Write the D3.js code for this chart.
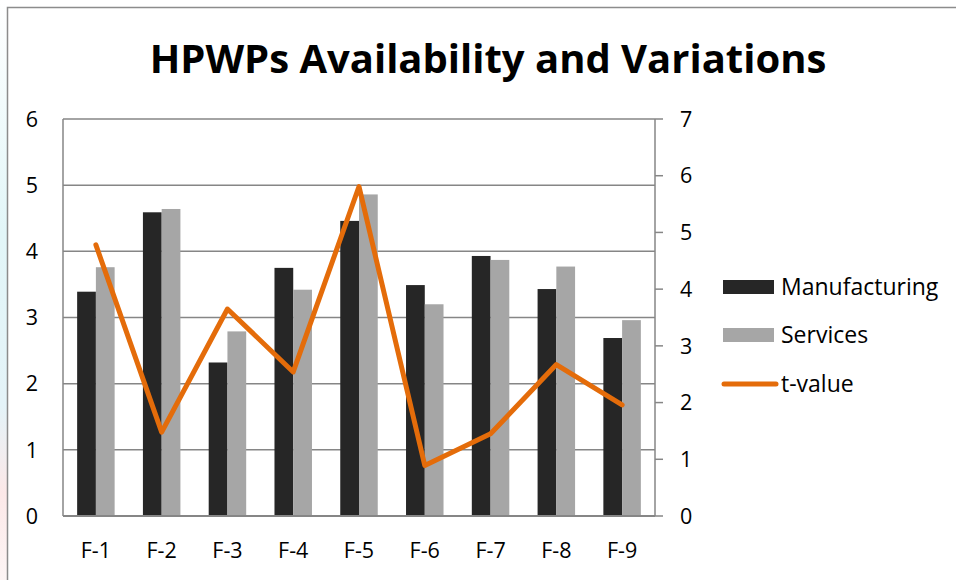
<!DOCTYPE html>
<html lang="en">
<head>
<meta charset="UTF-8">
<title>HPWPs Availability and Variations</title>
<script src="https://cdnjs.cloudflare.com/ajax/libs/d3/7.8.5/d3.min.js"></script>
<style>
  html, body { margin: 0; padding: 0; background: #fff; }
  svg { display: block; font-family: "Open Sans", sans-serif; }
  .grid line { stroke: #868686; stroke-width: 1.5; }
  .tick-label { font-size: 21.5px; fill: #000; }
  .legend-label { font-size: 23px; fill: #000; }
</style>
</head>
<body>
<div id="chart"></div>
<script>
  const categories = ["F-1", "F-2", "F-3", "F-4", "F-5", "F-6", "F-7", "F-8", "F-9"];
  const manufacturing = [3.39, 4.59, 2.32, 3.75, 4.46, 3.49, 3.93, 3.43, 2.69];
  const services = [3.76, 4.64, 2.79, 3.42, 4.86, 3.20, 3.87, 3.77, 2.96];
  const tValue = [4.78, 1.48, 3.65, 2.54, 5.81, 0.89, 1.45, 2.67, 1.96];
  const leftTicks = [0, 1, 2, 3, 4, 5, 6];
  const rightTicks = [0, 1, 2, 3, 4, 5, 6, 7];

  const width = 956, height = 580;
  const plot = {left: 63, right: 655, top: 119, bottom: 516};

  const svg = d3.select("#chart").append("svg")
      .attr("width", width)
      .attr("height", height);

  // faint background strip left of the chart frame
  const grad = svg.append("defs").append("linearGradient")
      .attr("id", "strip").attr("x1", 0).attr("y1", 0).attr("x2", 0).attr("y2", 1);
  grad.append("stop").attr("offset", "0%").attr("stop-color", "#ffffff");
  grad.append("stop").attr("offset", "40%").attr("stop-color", "#e2f6f8");
  grad.append("stop").attr("offset", "70%").attr("stop-color", "#e4f3f8");
  grad.append("stop").attr("offset", "85%").attr("stop-color", "#fce8e8");
  grad.append("stop").attr("offset", "100%").attr("stop-color", "#fdf5f5");
  svg.append("rect").attr("x", 0).attr("y", 0).attr("width", 7).attr("height", height)
      .attr("fill", "url(#strip)");

  // chart frame (only top and left edges show)
  svg.append("path")
      .attr("d", `M7.5,${height} V7.5 H${width}`)
      .attr("fill", "none").attr("stroke", "#8c8c8c").attr("stroke-width", 1.5);

  svg.append("text")
      .attr("x", 488).attr("y", 73)
      .attr("text-anchor", "middle")
      .attr("font-size", 40).attr("font-weight", "bold")
      .text("HPWPs Availability and Variations");

  const x = d3.scaleBand().domain(categories)
      .range([plot.left, plot.right])
      .paddingInner(0.43).paddingOuter(0.215);
  const xs = d3.scaleBand().domain(["m", "s"]).range([0, x.bandwidth()]);
  const yL = d3.scaleLinear().domain([0, 6]).range([plot.bottom, plot.top]);
  const yR = d3.scaleLinear().domain([0, 7]).range([plot.bottom, plot.top]);

  // gridlines
  svg.append("g").attr("class", "grid")
    .selectAll("line").data(leftTicks).join("line")
      .attr("x1", plot.left).attr("x2", plot.right)
      .attr("y1", d => yL(d)).attr("y2", d => yL(d));

  // bars
  const groups = svg.append("g").selectAll("g").data(categories).join("g")
      .attr("transform", d => `translate(${x(d)},0)`);
  groups.append("rect")
      .attr("x", xs("m")).attr("width", xs.bandwidth())
      .attr("y", (d, i) => yL(manufacturing[i]))
      .attr("height", (d, i) => plot.bottom - yL(manufacturing[i]))
      .attr("fill", "#262626");
  groups.append("rect")
      .attr("x", xs("s")).attr("width", xs.bandwidth())
      .attr("y", (d, i) => yL(services[i]))
      .attr("height", (d, i) => plot.bottom - yL(services[i]))
      .attr("fill", "#a6a6a6");

  // axis lines
  const axisColor = "#868686";
  svg.append("line").attr("x1", plot.left).attr("x2", plot.left)
      .attr("y1", plot.top).attr("y2", plot.bottom)
      .attr("stroke", axisColor).attr("stroke-width", 1.5);
  svg.append("line").attr("x1", plot.right).attr("x2", plot.right)
      .attr("y1", plot.top).attr("y2", plot.bottom)
      .attr("stroke", axisColor).attr("stroke-width", 1.5);
  svg.append("line").attr("x1", plot.left).attr("x2", plot.right)
      .attr("y1", plot.bottom).attr("y2", plot.bottom)
      .attr("stroke", axisColor).attr("stroke-width", 2);

  // right ticks
  svg.append("g").selectAll("line").data(rightTicks).join("line")
      .attr("x1", plot.right).attr("x2", plot.right + 8)
      .attr("y1", d => yR(d)).attr("y2", d => yR(d))
      .attr("stroke", axisColor).attr("stroke-width", 1.5);

  // t-value line
  const line = d3.line()
      .x((d, i) => x(categories[i]) + x.bandwidth() / 2)
      .y(d => yR(d));
  svg.append("path").datum(tValue)
      .attr("d", line)
      .attr("fill", "none")
      .attr("stroke", "#e46c0a")
      .attr("stroke-width", 5)
      .attr("stroke-linejoin", "round")
      .attr("stroke-linecap", "round");

  // tick labels
  svg.append("g").selectAll("text").data(leftTicks).join("text")
      .attr("class", "tick-label")
      .attr("x", 38).attr("y", d => yL(d))
      .attr("dy", "0.36em")
      .attr("text-anchor", "end")
      .text(d => d);
  svg.append("g").selectAll("text").data(rightTicks).join("text")
      .attr("class", "tick-label")
      .attr("x", 680).attr("y", d => yR(d))
      .attr("dy", "0.36em")
      .text(d => d);
  svg.append("g").selectAll("text").data(categories).join("text")
      .attr("class", "tick-label")
      .attr("x", d => x(d) + x.bandwidth() / 2).attr("y", 558)
      .attr("text-anchor", "middle")
      .text(d => d);

  // legend
  const legend = [
    {name: "Manufacturing", type: "bar", color: "#262626", y: 287},
    {name: "Services", type: "bar", color: "#a6a6a6", y: 335},
    {name: "t-value", type: "line", color: "#e46c0a", y: 384}
  ];
  const lg = svg.append("g").selectAll("g").data(legend).join("g");
  lg.filter(d => d.type === "bar").append("rect")
      .attr("x", 723).attr("y", d => d.y - 7)
      .attr("width", 51).attr("height", 14)
      .attr("fill", d => d.color);
  lg.filter(d => d.type === "line").append("line")
      .attr("x1", 724).attr("x2", 776)
      .attr("y1", d => d.y).attr("y2", d => d.y)
      .attr("stroke", d => d.color).attr("stroke-width", 5)
      .attr("stroke-linecap", "round");
  lg.append("text")
      .attr("class", "legend-label")
      .attr("x", 781).attr("y", d => d.y)
      .attr("dy", "0.36em")
      .text(d => d.name);
</script>
</body>
</html>
